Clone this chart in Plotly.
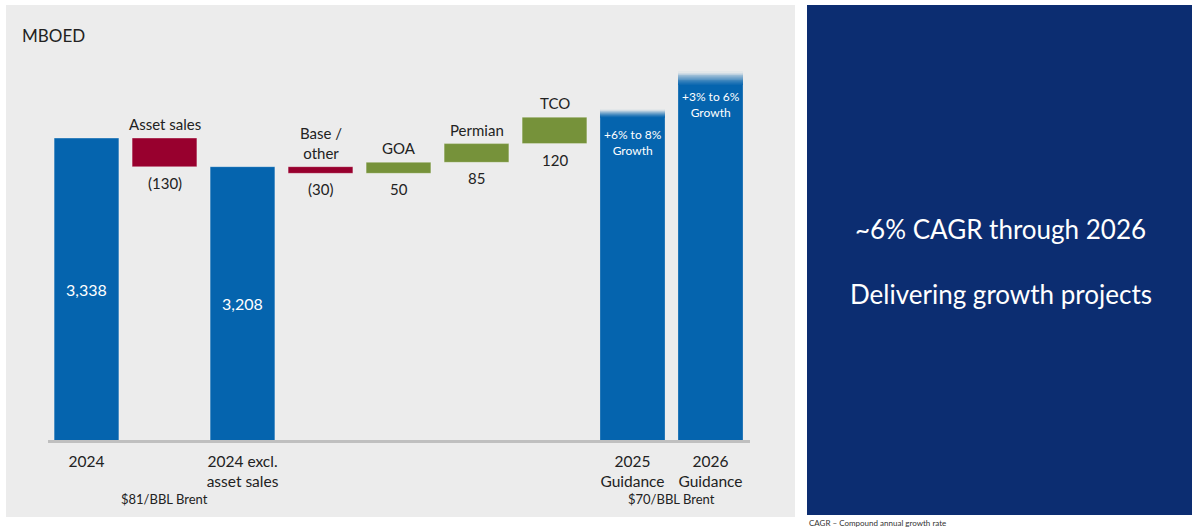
import plotly.graph_objects as go

# ---- data -------------------------------------------------------------
steps = ["2024", "Asset sales", "2024 excl. asset sales", "Base / other",
         "GOA", "Permian", "TCO", "2025 Guidance", "2026 Guidance"]
start_value = 3338                      # 2024 production
asset_sales = -130
after_sales_label = 3208                # 2024 excl. asset sales
drivers = ["Base / other", "GOA", "Permian", "TCO"]
driver_changes = [-30, 50, 85, 120]
driver_labels = ["(30)", "50", "85", "120"]
guidance = ["2025 Guidance", "2026 Guidance"]
guidance_low = [3433, 3580]
guidance_high = [3468, 3640]
growth_text = ["+6% to 8%<br>Growth", "+3% to 6%<br>Growth"]
tick_steps = ["2024", "2024 excl. asset sales", "2025 Guidance", "2026 Guidance"]
tick_text = ["2024", "2024 excl.<br>asset sales", "2025<br>Guidance", "2026<br>Guidance"]

# ---- styling ----------------------------------------------------------
W, H = 1192, 529
BLUE = "#0564ae"
RED = "#98002e"
GREEN = "#76923a"
NAVY = "#0c2d71"
PANEL = "#ececec"
TEXT = "#222222"
FONT = "Lato"

BASE_PX = 440            # pixel row of the category axis
TOP_PX = 50              # pixel row of the top of the plot area
PX_PER_UNIT = 0.22
Y_MIN = after_sales_label - (BASE_PX - 166.7) / PX_PER_UNIT
Y_MAX = Y_MIN + (BASE_PX - TOP_PX) / PX_PER_UNIT


def pos(name):
    # category index, so that names such as "2024" are not read as numbers
    return steps.index(name)


fig = go.Figure()

edge = dict(width=1, color="rgba(255,255,255,0.3)")

# totals drawn from zero (clipped by the axis range)
fig.add_trace(go.Bar(x=["2024", "2024 excl. asset sales"],
                     y=[start_value, start_value + asset_sales],
                     marker=dict(color=BLUE, line=edge), width=0.83,
                     hoverinfo="skip"))

# floating change bars
float_x, float_base, float_h, float_col = [], [], [], []
level = start_value
float_x.append("Asset sales")
float_base.append(level + min(asset_sales, 0))
float_h.append(abs(asset_sales))
float_col.append(RED if asset_sales < 0 else GREEN)
level += asset_sales
for name, ch in zip(drivers, driver_changes):
    float_x.append(name)
    float_base.append(level + min(ch, 0))
    float_h.append(abs(ch))
    float_col.append(RED if ch < 0 else GREEN)
    level += ch
fig.add_trace(go.Bar(x=float_x, y=float_h, base=float_base,
                     marker=dict(color=float_col, line=edge), width=0.83,
                     hoverinfo="skip"))

# guidance bars: solid body plus a fading top band
fig.add_trace(go.Bar(x=guidance, y=guidance_low,
                     marker=dict(color=BLUE, line=dict(width=0)), width=0.83,
                     hoverinfo="skip"))


def mix(c1, c2, t):
    a = [int(c1[i:i + 2], 16) for i in (1, 3, 5)]
    b = [int(c2[i:i + 2], 16) for i in (1, 3, 5)]
    return "rgb(%d,%d,%d)" % tuple(round(a[k] + (b[k] - a[k]) * t) for k in range(3))


N_FADE = 16
for i in range(N_FADE):
    t = (i + 0.5) / N_FADE
    bases = [lo + (hi - lo) * i / N_FADE for lo, hi in zip(guidance_low, guidance_high)]
    hs = [(hi - lo) / N_FADE for lo, hi in zip(guidance_low, guidance_high)]
    fig.add_trace(go.Bar(x=guidance, y=hs, base=bases,
                         marker=dict(color=mix(BLUE, PANEL, t ** 1.3), line=dict(width=0)),
                         width=0.83, hoverinfo="skip"))

annotations = []
lab = dict(font=dict(family=FONT, size=15, color=TEXT), showarrow=False,
           xref="x", yref="y")

# labels above / below floating bars
top_names = ["Asset sales", "Base /<br>other", "GOA", "Permian", "TCO"]
value_names = ["(%d)" % abs(asset_sales)] + driver_labels
for x, b, h, tn, vn in zip(float_x, float_base, float_h, top_names, value_names):
    annotations.append(dict(x=pos(x), y=b + h, text=tn, yanchor="bottom", yshift=3, **lab))
    annotations.append(dict(x=pos(x), y=b, text=vn, yanchor="top", yshift=-5, **lab))

# values inside the total bars
for x, v in zip(["2024", "2024 excl. asset sales"], [start_value, after_sales_label]):
    annotations.append(dict(x=pos(x), y=(Y_MIN + v) / 2, text=f"{v:,}", yanchor="middle",
                            showarrow=False, xref="x", yref="y",
                            font=dict(family=FONT, size=16, color="white")))

# growth ranges inside the guidance bars
for x, hi, txt in zip(guidance, guidance_high, growth_text):
    annotations.append(dict(x=pos(x), y=hi, text=txt, yanchor="top", yshift=-15,
                            showarrow=False, xref="x", yref="y",
                            font=dict(family=FONT, size=12, color="white")))

# price assumptions under the axis
brent = dict(showarrow=False, xref="x", yref="paper", y=1 - 499 / H, yanchor="middle",
             font=dict(family=FONT, size=13, color=TEXT))
annotations.append(dict(x=pos("Asset sales"), text="$81/BBL Brent", **brent))
annotations.append(dict(x=(pos("2025 Guidance") + pos("2026 Guidance")) / 2,
                        text="$70/BBL Brent", **brent))

# unit label
annotations.append(dict(x=20 / W, y=1 - 36 / H, xref="paper", yref="paper",
                        xanchor="left", yanchor="middle", text="MBOED", showarrow=False,
                        font=dict(family=FONT, size=17, color=TEXT)))

# side panel messages
for y_px, txt in [(229, "~6% CAGR through 2026"), (294, "Delivering growth projects")]:
    annotations.append(dict(x=1000.5 / W, y=1 - y_px / H, xref="paper", yref="paper",
                            xanchor="center", yanchor="middle", text=txt, showarrow=False,
                            font=dict(family=FONT, size=26, color="white")))

# footnote
annotations.append(dict(x=807 / W, y=1 - 523 / H, xref="paper", yref="paper",
                        xanchor="left", yanchor="middle",
                        text="CAGR \u2013 Compound annual growth rate", showarrow=False,
                        font=dict(family=FONT, size=8, color="#333333")))

shapes = [
    dict(type="rect", xref="paper", yref="paper", layer="below",
         x0=6 / W, x1=795 / W, y0=1 - 517 / H, y1=1 - 5 / H,
         fillcolor=PANEL, line=dict(width=0)),
    dict(type="rect", xref="paper", yref="paper", layer="below",
         x0=807 / W, x1=1.0, y0=1 - 515 / H, y1=1 - 5 / H,
         fillcolor=NAVY, line=dict(width=0)),
]

fig.update_layout(
    width=W, height=H,
    margin=dict(l=0, r=0, t=0, b=0),
    paper_bgcolor="white", plot_bgcolor="rgba(0,0,0,0)",
    barmode="overlay", showlegend=False,
    annotations=annotations, shapes=shapes,
    xaxis=dict(type="category", categoryorder="array", categoryarray=steps,
               domain=[47.5 / W, 749.5 / W], range=[-0.5, 8.5],
               showline=True, linecolor="#bfbfbf", linewidth=3,
               showgrid=False, zeroline=False, ticks="",
               tickvals=tick_steps, ticktext=tick_text, ticklabelstandoff=5,
               tickfont=dict(family=FONT, size=15.5, color=TEXT), fixedrange=True),
    yaxis=dict(domain=[1 - BASE_PX / H, 1 - TOP_PX / H], range=[Y_MIN, Y_MAX],
               visible=False, fixedrange=True),
)

fig.write_html("out.html")
